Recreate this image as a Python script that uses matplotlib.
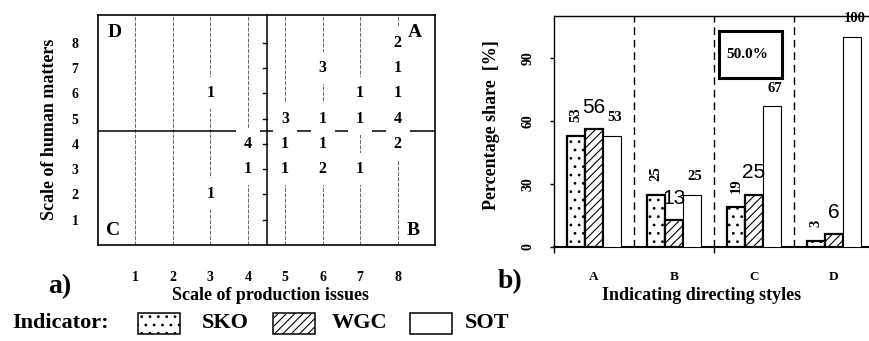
import matplotlib
matplotlib.use('Agg')
import matplotlib.pyplot as plt
from matplotlib.patches import Rectangle

# panel a) - counts placed on the production / human matters grid
grid_x = [3, 3, 4, 4, 5, 5, 5, 6, 6, 6, 6, 7, 7, 7, 8, 8, 8, 8, 8]
grid_y = [6, 2, 4, 3, 5, 4, 3, 7, 5, 4, 3, 6, 5, 3, 8, 7, 6, 5, 4]
grid_n = [1, 1, 4, 1, 3, 1, 1, 3, 1, 1, 2, 1, 1, 1, 2, 1, 1, 4, 2]
scale_ticks = [1, 2, 3, 4, 5, 6, 7, 8]
quadrants = {'D': (0.05, 0.925), 'A': (0.94, 0.925), 'C': (0.045, 0.065), 'B': (0.935, 0.065)}

# panel b) - percentage share per directing style
styles = ['A', 'B', 'C', 'D']
sko = [53, 25, 19, 3]
wgc = [56, 13, 25, 6]
sot = [53, 25, 67, 100]
indicators = ['SKO', 'WGC', 'SOT']
share_ticks = [0, 30, 60, 90]
boxed_label = '50.0%'

W, H = 869, 341
SERIF = 'Liberation Serif'
plt.rcParams['font.family'] = SERIF
plt.rcParams['font.weight'] = 'bold'
plt.rcParams['hatch.linewidth'] = 0.8


def px(x, y):
    return x / W, 1 - y / H


def main():
    fig = plt.figure(figsize=(W / 100, H / 100), dpi=100)

    # ---- panel a)
    ax = fig.add_axes([98 / W, 1 - 245 / H, 337 / W, 230 / H])
    ax.set_xlim(0, 9)
    ax.set_ylim(0, 9.1)
    for x in scale_ticks:
        ax.axvline(x, color='0.4', lw=0.7, ls=(0, (4, 1.5)), zorder=1)
    ax.axhline(4.5, color='black', lw=1.1, zorder=1)
    ax.axvline(4.5, color='black', lw=1.1, zorder=5)
    for y in scale_ticks:
        ax.plot([4.4, 4.5], [y, y], color='black', lw=1.0, zorder=5)
    for x, y, n in zip(grid_x, grid_y, grid_n):
        ax.text(x, y, str(n), ha='center', va='center', fontsize=11.5, zorder=3,
                bbox=dict(boxstyle='square,pad=0.5', fc='white', ec='none'))
    for q, (qx, qy) in quadrants.items():
        ax.text(qx, qy, q, transform=ax.transAxes, ha='center', va='center', fontsize=14)
    ax.set_xticks(scale_ticks)
    ax.set_yticks(scale_ticks)
    ax.tick_params(axis='both', length=0, labelsize=10)
    ax.tick_params(axis='x', pad=19)
    ax.tick_params(axis='y', pad=14)
    for s in ax.spines.values():
        s.set_linewidth(1.2)
        s.set_zorder(6)

    fig.text(*px(50, 129), 'Scale of human matters', rotation=90, ha='center', va='center', fontsize=13)
    fig.text(*px(270, 295), 'Scale of production issues', ha='center', va='center', fontsize=13)
    fig.text(*px(60, 287), 'a)', ha='center', va='center', fontsize=20)

    # ---- panel b)
    ax2 = fig.add_axes([554 / W, 1 - 247 / H, 316 / W, 231 / H])
    ax2.set_xlim(0, 3.95)
    ax2.set_ylim(0, 110)
    width = 0.225
    centers = [i + 0.5 for i in range(len(styles))]
    series = [(sko, '..', 1.6), (wgc, '////', 1.6), (sot, '', 0.8)]
    for k, (vals, hatch, lw) in enumerate(series):
        xs = [c + (k - 1) * width for c in centers]
        ax2.bar(xs, vals, width=width, facecolor='white', edgecolor='black',
                hatch=hatch, linewidth=lw, zorder=3)
        for x, v in zip(xs, vals):
            if k == 0:
                ax2.text(x, v + 6.5, str(v), rotation=90, ha='center', va='bottom',
                         fontsize=10.5, zorder=4)
            elif k == 1:
                ax2.text(x, v + 10.3, str(v), ha='center', va='center', fontsize=15,
                         family='Liberation Sans', weight='normal', zorder=4, clip_on=False)
            else:
                ax2.text(x + 0.035, v + 8.7, str(v), ha='center', va='center',
                         fontsize=10.5, zorder=4, clip_on=False)
    for b in range(1, len(styles)):
        ax2.axvline(b, color='black', lw=1.0, ls=(0, (5.5, 3.5)), zorder=2)

    ax2.add_patch(Rectangle((2.06, 80.5), 0.79, 22.4, fill=False, lw=2.2, zorder=4))
    ax2.text(2.42, 91.6, boxed_label, ha='center', va='center', fontsize=11, zorder=4)

    ax2.set_xticks(centers)
    ax2.set_xticklabels(styles)
    ax2.set_xticks([0, 2], minor=True)
    ax2.tick_params(axis='x', which='major', length=0, pad=17, labelsize=9.5)
    ax2.tick_params(axis='x', which='minor', length=4, width=1)
    ax2.set_yticks(share_ticks)
    ax2.tick_params(axis='y', length=3, width=1, pad=11, labelsize=10)
    for lab in ax2.get_yticklabels():
        lab.set_rotation(90)
        lab.set_va('center')
    ax2.spines['right'].set_visible(False)
    ax2.spines['left'].set_linewidth(1.0)
    ax2.spines['top'].set_linewidth(1.0)
    ax2.spines['bottom'].set_linewidth(1.5)

    fig.text(*px(492, 125), 'Percentage share  [%]', rotation=90, ha='center', va='center', fontsize=13)
    fig.text(*px(702, 295), 'Indicating directing styles', ha='center', va='center', fontsize=13)
    fig.text(*px(510, 282), 'b)', ha='center', va='center', fontsize=20)

    # ---- legend row
    fig.text(*px(12, 323), 'Indicator:', ha='left', va='center', fontsize=16)
    patch_left = [138, 273, 410]
    text_mid = [225, 359, 487]
    for name, hatch, pl, tm in zip(indicators, ['..', '////', ''], patch_left, text_mid):
        fig.add_artist(Rectangle(px(pl, 334), 42 / W, 21 / H, transform=fig.transFigure,
                                 facecolor='white', edgecolor='black', hatch=hatch, lw=1.1))
        fig.text(*px(tm, 323), name, ha='center', va='center', fontsize=16)

    fig.savefig('out.png', dpi=100)


if __name__ == '__main__':
    main()
